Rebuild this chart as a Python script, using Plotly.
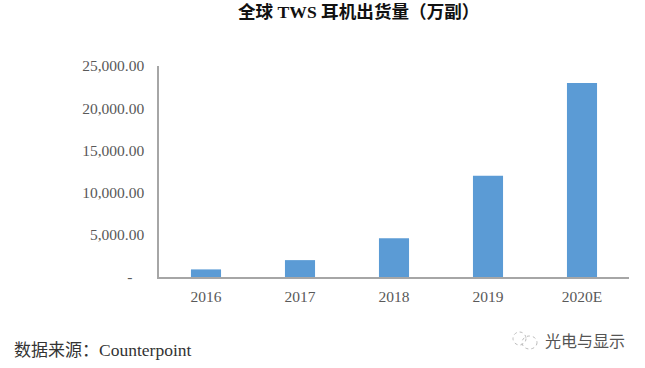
import plotly.graph_objects as go

categories = ["2016", "2017", "2018", "2019", "2020E"]
shipments = [900, 2000, 4600, 12000, 23000]
tick_values = [0, 5000, 10000, 15000, 20000, 25000]
tick_labels = ["-\u00a0\u00a0\u00a0", "5,000.00", "10,000.00", "15,000.00", "20,000.00", "25,000.00"]
title_text = "全球 TWS 耳机出货量（万副）"
source_text = '数据来源：<span style="font-size:17.5px">Counterpoint</span>'
watermark_text = "光电与显示"

SERIF = "Liberation Serif, Noto Sans CJK SC"
W, H = 645, 368
L, R, T, B = 159, 16, 66, 91

def px(x): return (x - L) / (W - L - R)
def py(y): return (H - B - y) / (H - T - B)

fig = go.Figure(go.Bar(x=categories, y=shipments, marker=dict(color="#5B9BD5", line_width=0),
                       width=0.32))
fig.update_layout(
    width=W, height=H, margin=dict(l=L, r=R, t=T, b=B, pad=0), autosize=False,
    paper_bgcolor="white", plot_bgcolor="white", showlegend=False,
    font=dict(family=SERIF, color="#595959", size=15),
    annotations=[
        dict(text=title_text, xref="paper", yref="paper", x=px(358), y=py(12),
             xanchor="center", yanchor="middle", showarrow=False,
             font=dict(size=17.6, color="#111111", family=SERIF, weight="bold")),
        dict(text=source_text, xref="paper", yref="paper", x=px(12), y=py(350),
             xanchor="left", yanchor="middle", showarrow=False,
             font=dict(size=17, color="#333333", family=SERIF)),
        dict(text=watermark_text, xref="paper", yref="paper", x=px(627), y=py(340),
             xanchor="right", yanchor="middle", showarrow=False,
             font=dict(size=16, color="#555555", family="Noto Sans CJK SC")),
    ],
)
fig.update_xaxes(type="category", showgrid=False, showline=True, linecolor="#A6A6A6", linewidth=1.5,
                 ticks="outside", ticklen=5, tickcolor="rgba(0,0,0,0)",
                 tickfont=dict(size=15.5, color="#595959"), range=[-0.5, 4.5])
fig.update_yaxes(range=[0, 25000], tickvals=tick_values, ticktext=tick_labels, showgrid=False, zeroline=False,
                 showline=True, linecolor="#A6A6A6", linewidth=1.5,
                 ticks="outside", ticklen=10, tickcolor="rgba(0,0,0,0)",
                 tickfont=dict(size=15.5, color="#595959"))

fig.add_shape(type="circle", xref="paper", yref="paper", x0=px(513), x1=px(526), y0=py(345), y1=py(332),
              line=dict(color="#BBBBBB", width=1, dash="dot"))
fig.add_shape(type="circle", xref="paper", yref="paper", x0=px(522), x1=px(537), y0=py(349), y1=py(336),
              line=dict(color="#BBBBBB", width=1, dash="dot"))

fig.write_html("out.html", config={"displayModeBar": False}, post_script="document.body.style.margin='0';")
